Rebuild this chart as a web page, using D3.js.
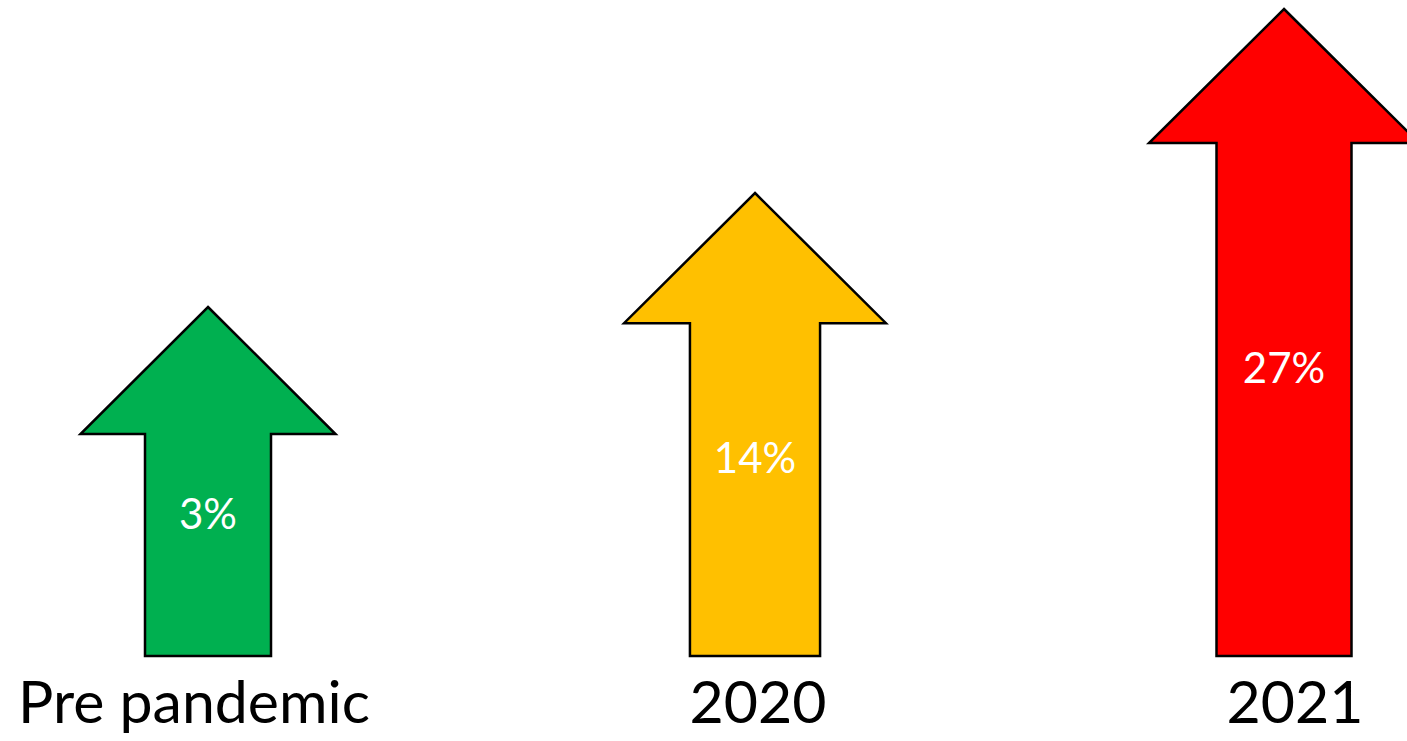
<!DOCTYPE html>
<meta charset="utf-8">
<style type="text/css">

body {
  margin: 0;
  background: #fff;
}

.arrow {
  stroke: #000;
  stroke-width: 2.5;
  stroke-linejoin: miter;
}

.pct {
  fill: #fff;
  font-family: Lato, "Open Sans", sans-serif;
  font-size: 42px;
  text-anchor: middle;
}

.cat {
  fill: #000;
  font-family: Lato, "Open Sans", sans-serif;
  font-size: 59px;
  text-anchor: middle;
}

</style>
<svg width="1407" height="741"></svg>
<script src="https://cdn.jsdelivr.net/npm/d3@7"></script>
<script>

// data
var categories = ["Pre pandemic", "2020", "2021"];
var values = [3, 14, 27];
var labels = ["3%", "14%", "27%"];
var colors = ["#00B050", "#FFC000", "#FF0000"];

var svg = d3.select("svg"),
    width = +svg.attr("width"),
    height = +svg.attr("height");

var base = 656;          // bottom of every arrow

// arrows are not evenly spaced in the original
var x = d3.scaleLinear()
    .domain([0, 1, 2])
    .range([208, 755, 1284]);

// arrow length is not proportional in the original, so a piecewise scale
var y = d3.scaleLinear()
    .domain([0, 3, 14, 27])
    .range([base, 307, 193, 9]);

// arrows get slightly fatter as they grow
var shaftW = d3.scaleLinear().domain([3, 27]).range([126, 135]),
    headW  = d3.scaleLinear().domain([3, 27]).range([255, 270]),
    headH  = d3.scaleLinear().domain([3, 27]).range([127, 134]);

var rows = categories.map(function(c, i){
  return {i: i, cat: c, value: values[i], label: labels[i], color: colors[i]};
});

function arrowPath(d){
  var cx = x(d.i), tip = y(d.value), hb = tip + headH(d.value),
      sw = shaftW(d.value)/2, hw = headW(d.value)/2;
  var p = d3.path();
  p.moveTo(cx, tip);
  p.lineTo(cx + hw, hb);
  p.lineTo(cx + sw, hb);
  p.lineTo(cx + sw, base);
  p.lineTo(cx - sw, base);
  p.lineTo(cx - sw, hb);
  p.lineTo(cx - hw, hb);
  p.closePath();
  return p.toString();
}

var g = svg.append("g");

g.selectAll(".arrow")
  .data(rows)
  .enter().append("path")
    .attr("class", "arrow")
    .attr("fill", function(d){ return d.color; })
    .attr("d", arrowPath);

// value labels sit a bit above the middle of the shaft
g.selectAll(".pct")
  .data(rows)
  .enter().append("text")
    .attr("class", "pct")
    .attr("x", function(d){ return x(d.i); })
    .attr("y", function(d){ return (y(d.value) + headH(d.value) + base)/2 - 31; })
    .attr("dy", "0.35em")
    .text(function(d){ return d.label; });

var catShift = [-14, 3, 11];

g.selectAll(".cat")
  .data(rows)
  .enter().append("text")
    .attr("class", "cat")
    .attr("x", function(d){ return x(d.i) + catShift[d.i]; })
    .attr("y", 723)
    .text(function(d){ return d.cat; });

</script>
